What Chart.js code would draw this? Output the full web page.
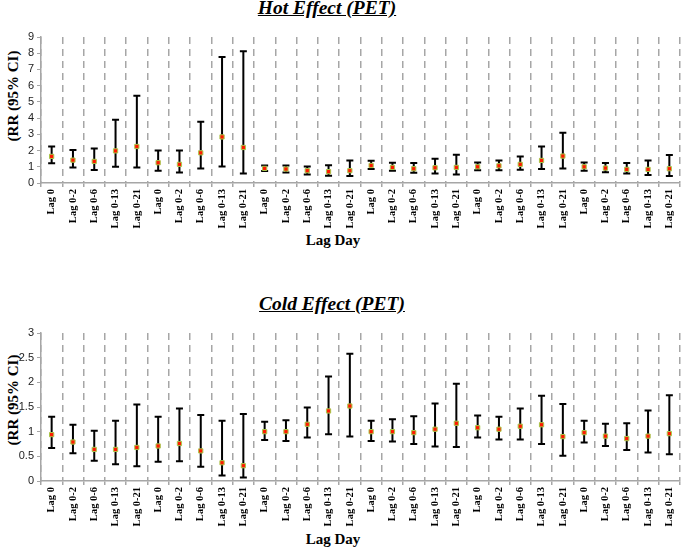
<!DOCTYPE html>
<html>
<head>
<meta charset="utf-8">
<script src="https://cdn.jsdelivr.net/npm/chart.js@4"></script>
<style>
  body { margin: 0; background: #fff; width: 685px; height: 549px; position: relative; overflow: hidden; }
  canvas { position: absolute; left: 0; }
  .ttl { position: absolute; font: bold italic 19.5px "Liberation Serif", "Times New Roman", serif; text-decoration: underline; white-space: nowrap; transform: translateX(-50%); }
  .xt { position: absolute; font: bold 15px "Liberation Serif", "Times New Roman", serif; white-space: nowrap; transform: translateX(-50%); }
  .yt { position: absolute; font: bold 15px "Liberation Serif", "Times New Roman", serif; white-space: nowrap; transform: translate(-50%, -50%) rotate(-90deg); }
</style>
</head>
<body>
<div class="ttl" style="left:327px; top:-3px;">Hot Effect (PET)</div>
<div class="yt" style="left:13px; top:96px;">(RR (95% CI)</div>
<div class="xt" style="left:333px; top:232px;">Lag Day</div>
<canvas id="hotChart" style="top:0px"></canvas>

<div class="ttl" style="left:332px; top:293px;">Cold Effect (PET)</div>
<div class="yt" style="left:13px; top:400px;">(RR (95% CI)</div>
<div class="xt" style="left:333px; top:531px;">Lag Day</div>
<canvas id="coldChart" style="top:260px"></canvas>

<script>
var lags = ['Lag 0', 'Lag 0-2', 'Lag 0-6', 'Lag 0-13', 'Lag 0-21']
var labels = []
for (var g = 0; g < 6; g++) labels = labels.concat(lags)

// hot effect
var hotRR = [1.64, 1.41, 1.33, 1.98, 2.25, 1.25, 1.15, 1.86, 2.84, 2.19,
             0.90, 0.86, 0.76, 0.70, 0.76, 1.08, 0.96, 0.88, 0.94, 0.96,
             1.00, 1.06, 1.15, 1.39, 1.66, 1.00, 0.92, 0.84, 0.84, 0.88]
var hotLow = [1.21, 0.96, 0.80, 1.00, 0.96, 0.76, 0.65, 0.90, 1.02, 0.59,
              0.74, 0.65, 0.53, 0.45, 0.43, 0.86, 0.76, 0.63, 0.59, 0.53,
              0.78, 0.78, 0.82, 0.86, 0.90, 0.76, 0.67, 0.59, 0.49, 0.43]
var hotHigh = [2.25, 2.04, 2.13, 3.90, 5.38, 2.00, 2.00, 3.78, 7.77, 8.12,
               1.08, 1.08, 1.02, 1.10, 1.39, 1.37, 1.25, 1.23, 1.49, 1.74,
               1.27, 1.39, 1.64, 2.25, 3.09, 1.27, 1.23, 1.23, 1.39, 1.72]

// cold effect
var coldRR = [0.94, 0.79, 0.64, 0.64, 0.68, 0.71, 0.76, 0.61, 0.37, 0.31,
              1.00, 1.00, 1.15, 1.42, 1.52, 1.00, 1.00, 0.98, 1.05, 1.17,
              1.08, 1.05, 1.11, 1.14, 0.90, 0.98, 0.91, 0.86, 0.91, 0.96]
var coldLow = [0.67, 0.56, 0.41, 0.34, 0.30, 0.39, 0.40, 0.29, 0.11, 0.07,
               0.83, 0.81, 0.88, 0.95, 0.90, 0.81, 0.80, 0.75, 0.70, 0.69,
               0.88, 0.84, 0.84, 0.75, 0.51, 0.78, 0.71, 0.63, 0.58, 0.54]
var coldHigh = [1.30, 1.14, 1.02, 1.22, 1.55, 1.30, 1.47, 1.34, 1.22, 1.36,
                1.20, 1.23, 1.49, 2.12, 2.58, 1.22, 1.25, 1.31, 1.57, 1.97,
                1.33, 1.30, 1.47, 1.73, 1.56, 1.22, 1.16, 1.17, 1.43, 1.74]

var errorBars = {
  id: 'errorBars',
  beforeDatasetsDraw: function (chart, args, opts) {
    var ctx = chart.ctx
    var x = chart.scales.x, y = chart.scales.y
    ctx.save()
    ctx.strokeStyle = '#000'
    ctx.lineWidth = 2
    for (var i = 0; i < opts.low.length; i++) {
      var px = x.getPixelForValue(i)
      var y1 = y.getPixelForValue(opts.low[i])
      var y2 = y.getPixelForValue(opts.high[i])
      ctx.beginPath()
      ctx.moveTo(px, y1); ctx.lineTo(px, y2)
      ctx.moveTo(px - 3.5, y1); ctx.lineTo(px + 3.5, y1)
      ctx.moveTo(px - 3.5, y2); ctx.lineTo(px + 3.5, y2)
      ctx.stroke()
    }
    ctx.restore()
  }
}

function makeChart (id, h, padTop, xHeight, rr, low, high, yMax, step) {
  var c = document.getElementById(id)
  c.width = 685
  c.height = h
  c.style.width = '685px'
  c.style.height = h + 'px'
  return new Chart(c, {
    type: 'line',
    data: {
      labels: labels,
      datasets: [{
        data: rr,
        showLine: false,
        pointStyle: 'rect',
        pointRadius: 3,
        pointBackgroundColor: '#ff1a00',
        pointBorderColor: '#a8c84a',
        pointBorderWidth: 1
      }]
    },
    options: {
      responsive: false,
      animation: false,
      layout: { padding: { top: padTop, right: 1, left: 0, bottom: 0 } },
      plugins: {
        legend: { display: false },
        tooltip: { enabled: false },
        errorBars: { low: low, high: high }
      },
      scales: {
        x: {
          type: 'category',
          offset: true,
          afterFit: function (s) { s.height = xHeight },
          grid: {
            offset: true,
            color: '#a6a6a6',
            lineWidth: 1.5,
            tickBorderDash: [],
            tickLength: 4,
            tickColor: '#a6a6a6'
          },
          border: { color: '#a6a6a6', width: 1.5, dash: [7, 5] },
          ticks: {
            autoSkip: false,
            minRotation: 90,
            maxRotation: 90,
            padding: 2,
            color: '#000',
            font: { family: '"Liberation Serif", "Times New Roman", serif', size: 10.5, weight: 'bold' }
          }
        },
        y: {
          min: 0,
          max: yMax,
          afterFit: function (s) { s.width = 41 },
          grid: { drawOnChartArea: false, tickLength: 4, color: '#a6a6a6' },
          border: { color: '#a6a6a6', width: 1.5 },
          ticks: {
            stepSize: step,
            autoSkip: false,
            padding: 3,
            color: '#222',
            font: { family: '"Liberation Sans", Arial, sans-serif', size: 11 },
            callback: function (v) { return String(Math.round(v * 10) / 10) }
          }
        }
      }
    },
    plugins: [errorBars]
  })
}

makeChart('hotChart', 260, 37, 77, hotRR, hotLow, hotHigh, 9, 1)
makeChart('coldChart', 289, 73, 68, coldRR, coldLow, coldHigh, 3, 0.5)
</script>
</body>
</html>
